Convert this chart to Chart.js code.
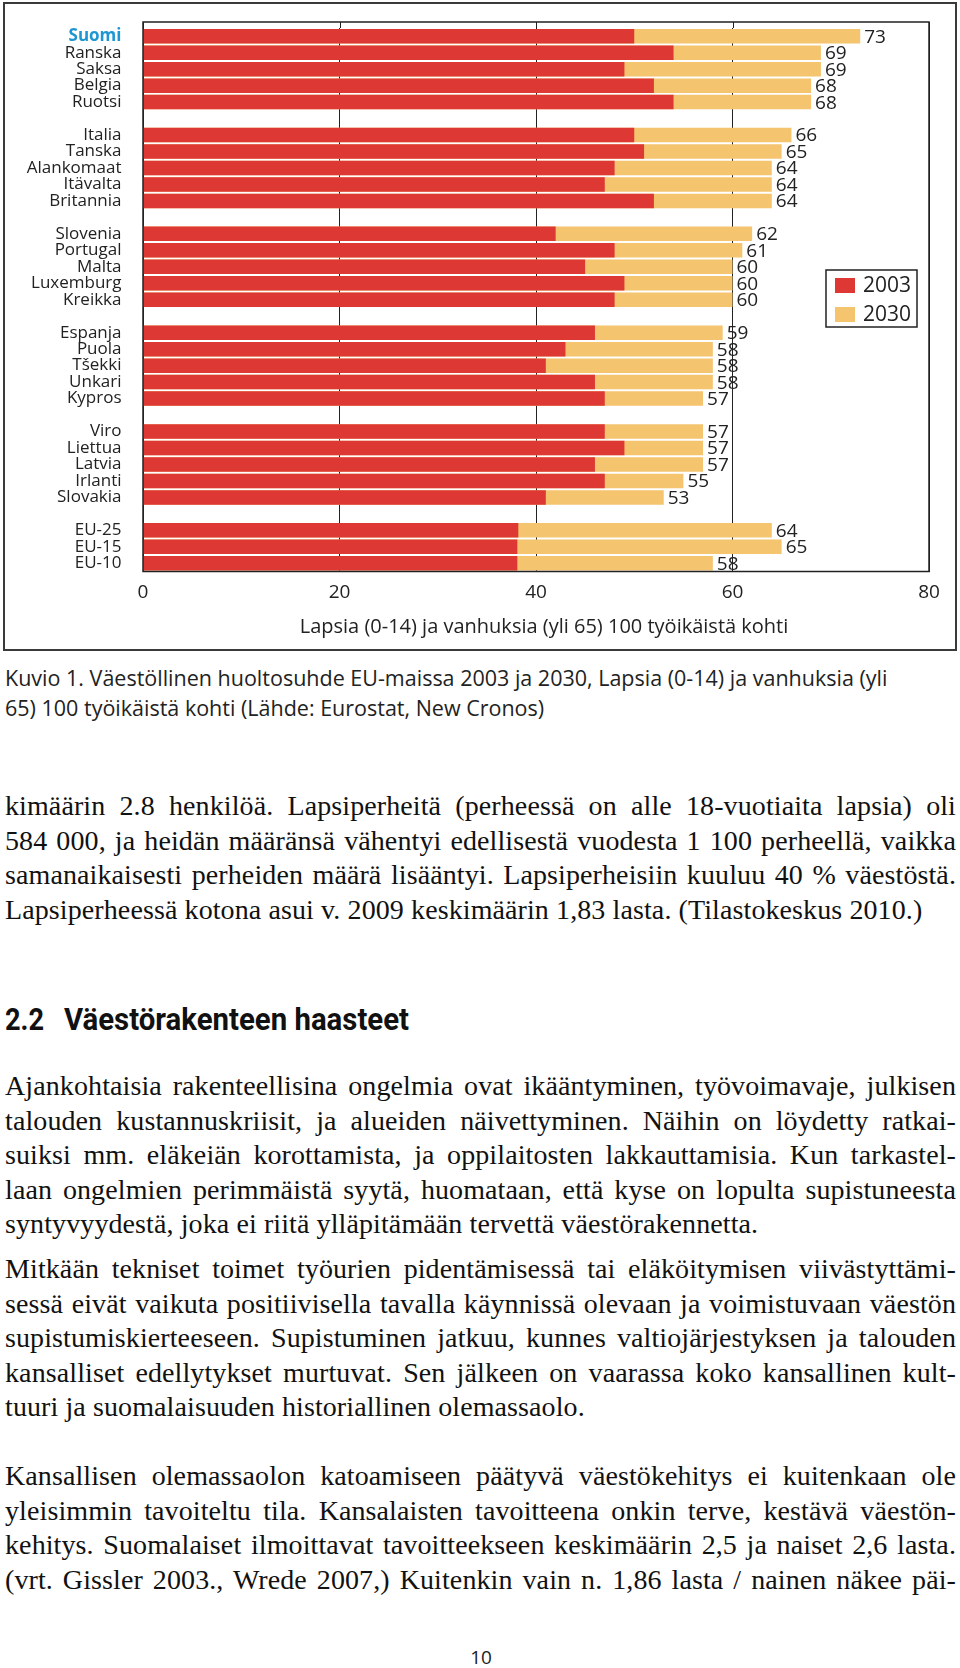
<!DOCTYPE html>
<html><head><meta charset="utf-8">
<script src="https://cdn.jsdelivr.net/npm/chart.js@4.4.1/dist/chart.umd.min.js"></script>
<style>
html,body{margin:0;padding:0;background:#fff;}
body{width:960px;height:1668px;position:relative;overflow:hidden;}
#frame{position:absolute;left:3px;top:2px;width:950px;height:645px;border:2px solid #3a3a3a;}
#wrap{position:absolute;left:0;top:0;width:960px;height:655px;}
.cap{position:absolute;left:5px;font-family:"Open Sans";font-size:21.5px;line-height:30px;color:#222;white-space:nowrap;}
.txt{position:absolute;left:5px;width:951px;font-family:"Liberation Serif";font-size:28px;line-height:34.5px;color:#111;letter-spacing:0.1px;}
.txt div{text-align:justify;text-align-last:justify;}
.txt div.last{text-align-last:left;}
.h{position:absolute;left:5px;top:1001px;height:38px;font-family:Roboto,"Open Sans",sans-serif;font-weight:bold;font-size:31px;line-height:38px;color:#111;white-space:nowrap;}
.h span{position:absolute;top:0;display:inline-block;transform-origin:0 50%;}
.pg{position:absolute;left:0;width:962px;text-align:center;top:1644px;font-family:"Open Sans";font-size:19px;line-height:26px;color:#222;}
</style>
</head><body>
<div id="frame"></div>
<div id="wrap"><canvas id="c" width="960" height="655"></canvas></div>

<div class="cap" style="top:663px">Kuvio 1. Väestöllinen huoltosuhde EU-maissa 2003 ja 2030, Lapsia (0-14) ja vanhuksia (yli</div>
<div class="cap" style="top:693px">65) 100 työikäistä kohti (Lähde: Eurostat, New Cronos)</div>

<div class="txt" style="top:789px">
<div>kimäärin 2.8 henkilöä. Lapsiperheitä (perheessä on alle 18-vuotiaita lapsia) oli</div>
<div>584 000, ja heidän määränsä vähentyi edellisestä vuodesta 1 100 perheellä, vaikka</div>
<div>samanaikaisesti perheiden määrä lisääntyi. Lapsiperheisiin kuuluu 40 % väestöstä.</div>
<div class="last">Lapsiperheessä kotona asui v. 2009 keskimäärin 1,83 lasta. (Tilastokeskus 2010.)</div>
</div>

<div class="h"><span id="h1" data-w="39" style="left:0">2.2</span><span id="h2" data-w="345" style="left:59px">Väestörakenteen haasteet</span></div>

<div class="txt" style="top:1069px">
<div>Ajankohtaisia rakenteellisina ongelmia ovat ikääntyminen, työvoimavaje, julkisen</div>
<div>talouden kustannuskriisit, ja alueiden näivettyminen. Näihin on löydetty ratkai-</div>
<div>suiksi mm. eläkeiän korottamista, ja oppilaitosten lakkauttamisia. Kun tarkastel-</div>
<div>laan ongelmien perimmäistä syytä, huomataan, että kyse on lopulta supistuneesta</div>
<div class="last">syntyvyydestä, joka ei riitä ylläpitämään tervettä väestörakennetta.</div>
</div>

<div class="txt" style="top:1252px">
<div>Mitkään tekniset toimet työurien pidentämisessä tai eläköitymisen viivästyttämi-</div>
<div>sessä eivät vaikuta positiivisella tavalla käynnissä olevaan ja voimistuvaan väestön</div>
<div>supistumiskierteeseen. Supistuminen jatkuu, kunnes valtiojärjestyksen ja talouden</div>
<div>kansalliset edellytykset murtuvat. Sen jälkeen on vaarassa koko kansallinen kult-</div>
<div class="last">tuuri ja suomalaisuuden historiallinen olemassaolo.</div>
</div>

<div class="txt" style="top:1459px">
<div>Kansallisen olemassaolon katoamiseen päätyvä väestökehitys ei kuitenkaan ole</div>
<div>yleisimmin tavoiteltu tila. Kansalaisten tavoitteena onkin terve, kestävä väestön-</div>
<div>kehitys. Suomalaiset ilmoittavat tavoitteekseen keskimäärin 2,5 ja naiset 2,6 lasta.</div>
<div>(vrt. Gissler 2003., Wrede 2007,) Kuitenkin vain n. 1,86 lasta / nainen näkee päi-</div>
</div>

<div class="pg">10</div>

<script>
// ---- data ----
const countries = ["Suomi","Ranska","Saksa","Belgia","Ruotsi",
  "Italia","Tanska","Alankomaat","Itävalta","Britannia",
  "Slovenia","Portugal","Malta","Luxemburg","Kreikka",
  "Espanja","Puola","Tšekki","Unkari","Kypros",
  "Viro","Liettua","Latvia","Irlanti","Slovakia",
  "EU-25","EU-15","EU-10"];
const groupSizes = [5,5,5,5,5,3];
const values2003 = [50,54,49,52,54, 50,51,48,47,52, 42,48,45,49,48, 46,43,41,46,47, 47,49,46,47,41, 38.2,38.1,38.1];
const values2030 = [73,69,69,68,68, 66,65,64,64,64, 62,61,60,60,60, 59,58,58,58,57, 57,57,57,55,53, 64,65,58];
const seriesNames = ["2003","2030"];
const xTicks = [0,20,40,60,80];
const axisTitle = "Lapsia (0-14) ja vanhuksia (yli 65) 100 työikäistä kohti";

const RED = "#dd3834", ORANGE = "#f4c46f", INK = "#222", BLUE = "#1e96d2";
const FONT = "Open Sans";

// fit heading spans to their measured widths in the reference
document.querySelectorAll(".h span").forEach(sp => {
  const w = sp.getBoundingClientRect().width;
  sp.style.transform = `scaleX(${(+sp.dataset.w) / w})`;
});

// build category list with blank rows between groups
const labels = [], d03 = [], d30 = [];
let k = 0;
groupSizes.forEach((n, g) => {
  for (let i = 0; i < n; i++, k++) { labels.push(countries[k]); d03.push(values2003[k]); d30.push(values2030[k]); }
  if (g < groupSizes.length - 1) { labels.push(""); d03.push(null); d30.push(null); }
});

const TOP_EXT = 6;
const framePlugin = {
  id: "frame",
  afterDatasetsDraw(chart) {
    const {ctx, chartArea: a, scales: {x}} = chart;
    ctx.save();
    ctx.strokeStyle = INK;
    ctx.lineWidth = 1;
    xTicks.forEach(v => {
      const px = Math.round(x.getPixelForValue(v)) + 0.5;
      ctx.beginPath(); ctx.moveTo(px, a.top - TOP_EXT); ctx.lineTo(px, a.top); ctx.stroke();
    });
    ctx.lineWidth = 1.5;
    ctx.strokeRect(a.left, a.top - TOP_EXT, a.right - a.left, a.bottom - a.top + TOP_EXT);
    // axis title
    ctx.font = `20px "${FONT}"`;
    ctx.fillStyle = INK; ctx.textAlign = "center"; ctx.textBaseline = "middle";
    ctx.fillText(axisTitle, (a.left + a.right) / 2 + 8, a.bottom + 56);
    ctx.restore();
  }
};
const valuePlugin = {
  id: "values",
  afterDatasetsDraw(chart) {
    const ctx = chart.ctx, meta = chart.getDatasetMeta(1);
    ctx.save();
    ctx.font = `19px "${FONT}"`;
    ctx.fillStyle = INK; ctx.textAlign = "left"; ctx.textBaseline = "middle";
    meta.data.forEach((bar, i) => {
      const v = d30[i];
      if (v == null) return;
      ctx.fillText(String(v), bar.x + 4, bar.y + 1);
    });
    ctx.restore();
  }
};
const legendPlugin = {
  id: "boxlegend",
  afterDraw(chart) {
    const ctx = chart.ctx, a = chart.chartArea;
    const bx = a.right - 103, by = 270, bw = 91, bh = 57;
    ctx.save();
    ctx.fillStyle = "#fff"; ctx.fillRect(bx, by, bw, bh);
    ctx.strokeStyle = INK; ctx.lineWidth = 1.5; ctx.strokeRect(bx, by, bw, bh);
    ctx.font = `21px "${FONT}"`; ctx.textBaseline = "middle"; ctx.textAlign = "left";
    chart.data.datasets.forEach((ds, i) => {
      const cy = by + 15 + i * 29;
      ctx.fillStyle = ds.backgroundColor; ctx.fillRect(bx + 9, cy - 7, 20, 15);
      ctx.fillStyle = INK; ctx.fillText(ds.label, bx + 37, cy + 1);
    });
    ctx.restore();
  }
};

function draw() {
  new Chart(document.getElementById("c"), {
    type: "bar",
    data: {
      labels,
      datasets: [
        {label: seriesNames[0], data: d03, backgroundColor: RED, order: 0, grouped: false, barPercentage: 0.88, categoryPercentage: 1},
        {label: seriesNames[1], data: d30, backgroundColor: ORANGE, order: 1, grouped: false, barPercentage: 0.88, categoryPercentage: 1}
      ]
    },
    options: {
      indexAxis: "y", responsive: false, animation: false, devicePixelRatio: 1,
      layout: {padding: {top: 22 + TOP_EXT, right: 31, left: 0, bottom: 0}},
      plugins: {legend: {display: false}, tooltip: {enabled: false}},
      scales: {
        x: {
          min: 0, max: 80,
          afterBuildTicks: s => { s.ticks = xTicks.map(v => ({value: v})); },
          grid: {color: INK, lineWidth: 1, drawTicks: false},
          border: {display: false},
          ticks: {font: {family: FONT, size: 19}, color: INK, padding: 10},
          afterFit: s => { s.height = 83.5; s.paddingLeft = 0; s.paddingRight = 0; }
        },
        y: {
          grid: {display: false},
          border: {display: false},
          ticks: {
            autoSkip: false, padding: 13.5,
            font: c => c.index === 0 ? {family: FONT, size: 17, weight: "bold"} : {family: FONT, size: 17},
            color: c => c.index === 0 ? BLUE : INK
          },
          afterFit: s => { s.width = 143; s.paddingTop = 0; s.paddingBottom = 0; }
        }
      }
    },
    plugins: [framePlugin, valuePlugin, legendPlugin]
  });
}
document.fonts.load(`19px "${FONT}"`).then(draw, draw);
</script>
</body></html>
